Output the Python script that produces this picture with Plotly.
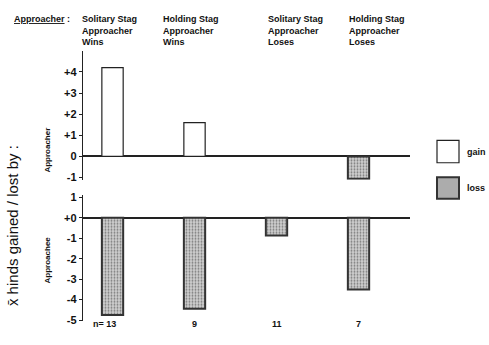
import plotly.graph_objects as go

categories = ["Solitary Stag<br>Approacher<br>Wins", "Holding Stag<br>Approacher<br>Wins",
              "Solitary Stag<br>Approacher<br>Loses", "Holding Stag<br>Approacher<br>Loses"]
approacher_gain = [4.2, 1.6, None, None]
approacher_loss = [None, None, None, -1.05]
approachee_loss = [-4.75, -4.45, -0.87, -3.5]
n_values = ["n= 13", "9", "11", "7"]
top_tickvals = [-1, 0, 1, 2, 3, 4]
top_ticktext = ["-1", "0", "+1", "+2", "+3", "+4"]
bot_tickvals = [1, 0, -1, -2, -3, -4, -5]
bot_ticktext = ["1", "+0", "-1", "-2", "-3", "-4", "-5"]

W, H = 489, 345
def fy(px):
    return 1 - px / H
def fx(px):
    return px / W

FONT = "Liberation Sans"
BW = 0.26
pattern = dict(shape=".", bgcolor="#cfcfcf", fgcolor="#7a7a7a", size=3, solidity=0.3, fillmode="replace")

fig = go.Figure()
fig.add_trace(go.Bar(x=categories, y=approacher_gain, width=BW, xaxis="x", yaxis="y",
                     marker=dict(color="white", line=dict(color="#222", width=1.2)), showlegend=False))
fig.add_trace(go.Bar(x=categories, y=approacher_loss, width=BW, xaxis="x", yaxis="y",
                     marker=dict(color="#c4c4c4", pattern=pattern, line=dict(color="#333", width=2)), showlegend=False))
fig.add_trace(go.Bar(x=categories, y=approachee_loss, width=BW, xaxis="x2", yaxis="y2",
                     marker=dict(color="#c4c4c4", pattern=pattern, line=dict(color="#333", width=2)), showlegend=False))

xr = [-0.36, 3.628]
xdom = [fx(83), fx(410)]
axcommon = dict(showline=True, linecolor="#222", linewidth=1.3, ticks="outside", ticklen=3,
                tickcolor="#222", showgrid=False, zeroline=True, zerolinecolor="#222", zerolinewidth=1.5,
                tickfont=dict(family=FONT, size=11, color="#111", weight="bold"))
fig.update_layout(
    width=W, height=H, margin=dict(l=0, r=0, t=0, b=0),
    paper_bgcolor="white", plot_bgcolor="white", barmode="overlay",
    xaxis=dict(domain=xdom, range=xr, visible=False, anchor="y"),
    xaxis2=dict(domain=xdom, range=xr, visible=False, anchor="y2"),
    yaxis=dict(domain=[fy(180.4), fy(48)], range=[-1.1, 5.0], anchor="x",
               tickvals=top_tickvals, ticktext=top_ticktext, **axcommon),
    yaxis2=dict(domain=[fy(325.6), fy(196.4)], range=[-5.05, 1.1], anchor="x2",
                tickvals=bot_tickvals, ticktext=bot_ticktext, **axcommon),
)

hdr_font = dict(family=FONT, size=9, color="#111", weight="bold")
fig.add_annotation(text="<u>Approacher</u> :", x=fx(12), y=fy(15), xref="paper", yref="paper",
                   xanchor="left", yanchor="middle", showarrow=False, font=hdr_font)
for i, c in enumerate(categories):
    fig.add_annotation(text=c, x=[fx(80), fx(161), fx(266), fx(347)][i], y=fy(8), xref="paper", yref="paper",
                       xanchor="left", yanchor="top", align="left", showarrow=False, font=hdr_font)

for i, n in enumerate(n_values):
    fig.add_annotation(text=n, x=categories[i], y=fy(336), xref="x2", yref="paper",
                       xshift=-8 if i == 0 else 0, showarrow=False,
                       font=dict(family=FONT, size=9, color="#111", weight="bold"))

fig.add_annotation(text="x\u0304 hinds gained / lost by :", x=fx(20), y=fy(228), xref="paper", yref="paper",
                   xanchor="center", yanchor="middle", xshift=-8,
                   textangle=-90, showarrow=False, font=dict(family=FONT, size=15, color="#111"))
fig.add_annotation(text="Approacher", x=fx(41), y=fy(150), xref="paper", yref="paper",
                   textangle=-90, showarrow=False, font=dict(family=FONT, size=8, color="#111", weight="bold"))
fig.add_annotation(text="Approachee", x=fx(41), y=fy(289), xref="paper", yref="paper",
                   textangle=-90, showarrow=False, font=dict(family=FONT, size=8, color="#111", weight="bold"))

# legend
fig.add_shape(type="rect", xref="paper", yref="paper", x0=fx(437), x1=fx(459), y0=fy(163), y1=fy(140),
              line=dict(color="#222", width=1.2), fillcolor="white")
fig.add_shape(type="rect", xref="paper", yref="paper", x0=fx(437), x1=fx(459), y0=fy(200), y1=fy(178),
              line=dict(color="#333", width=2), fillcolor="#acacac")
fig.add_annotation(text="gain", x=fx(465), y=fy(152), xref="paper", yref="paper", xanchor="left",
                   showarrow=False, font=dict(family=FONT, size=9, color="#111", weight="bold"))
fig.add_annotation(text="loss", x=fx(465), y=fy(189), xref="paper", yref="paper", xanchor="left",
                   showarrow=False, font=dict(family=FONT, size=9, color="#111", weight="bold"))

fig.write_html("out.html")
